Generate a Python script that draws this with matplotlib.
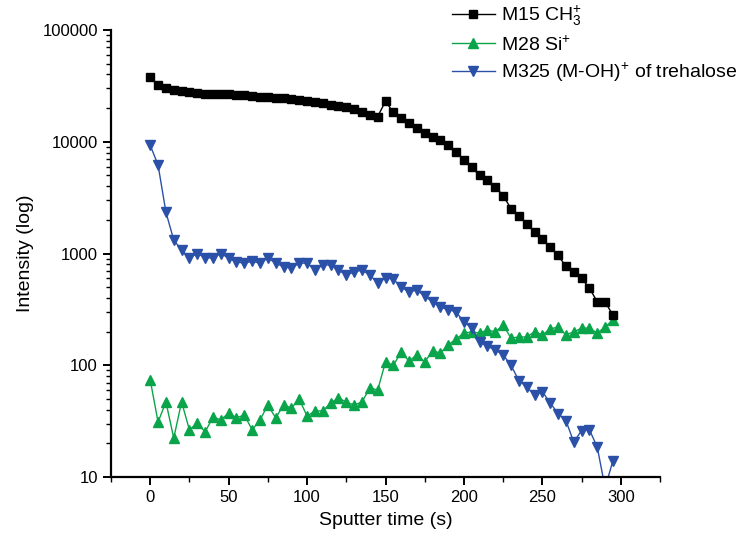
import matplotlib
matplotlib.use("Agg")
import matplotlib.pyplot as plt
from matplotlib.ticker import MultipleLocator, LogLocator, NullFormatter

plt.rcParams['font.family'] = ['Liberation Sans', 'DejaVu Sans']
plt.rcParams['mathtext.fontset'] = 'custom'
plt.rcParams['mathtext.rm'] = 'Liberation Sans'
plt.rcParams['mathtext.it'] = 'Liberation Sans:italic'

# sputter time (s)
time = [0, 5, 10, 15, 20, 25, 30, 35, 40, 45, 50, 55, 60, 65, 70, 75, 80, 85, 90, 95,
        100, 105, 110, 115, 120, 125, 130, 135, 140, 145, 150, 155, 160, 165, 170, 175,
        180, 185, 190, 195, 200, 205, 210, 215, 220, 225, 230, 235, 240, 245, 250, 255,
        260, 265, 270, 275, 280, 285, 290, 295]

# M15 CH3+
ch3 = [38000, 32000, 30000, 29000, 28300, 27800, 27400, 27000, 26800, 26600,
       26500, 26300, 26000, 25700, 25400, 25100, 24800, 24400, 24000, 23500,
       23000, 22500, 22000, 21500, 21000, 20300, 19500, 18500, 17500, 16800,
       23000, 18300, 16300, 14700, 13300, 12000, 11000, 10400, 9400, 8100,
       6900, 5900, 5000, 4550, 3950, 3300, 2520, 2180, 1840, 1560,
       1340, 1140, 960, 770, 690, 600, 490, 370, 370, 280]

# M28 Si+
si = [74, 31, 47, 22.3, 47, 26.4, 30.4, 25.3, 34.4, 32.4,
      37.4, 33.8, 35.9, 26.4, 32.4, 44, 33.8, 44, 41.4, 49.9,
      35, 39, 39, 45.9, 50.9, 46.9, 44, 46.9, 62.6, 60,
      107, 100, 131, 109, 124, 107, 134, 129, 152, 172,
      194, 199, 194, 207, 199, 229, 175, 179, 179, 199,
      187, 211, 220, 187, 199, 215, 215, 194, 220, 254]

# M325 (M-OH)+ of trehalose
treh = [9300, 6200, 2350, 1320, 1075, 910, 1000, 920, 910, 1000,
        910, 840, 820, 850, 820, 910, 820, 760, 740, 820,
        820, 711, 790, 790, 711, 642, 683, 711, 642, 545,
        604, 590, 501, 452, 471, 415, 370, 330, 315, 300,
        244, 215, 161, 148, 137, 124, 100, 73, 64, 54,
        58, 46, 37, 32, 20.6, 26, 26.5, 18.5, 8, 14]

labels = [r'M15 CH$_3^{+}$', r'M28 Si$^{+}$', r'M325 (M-OH)$^{+}$ of trehalose']

fig = plt.figure(figsize=(7.47, 5.40), dpi=100)
ax = fig.add_axes([111 / 747, 1 - 477 / 540, (660 - 111) / 747, (477 - 30) / 540])

ax.plot(time, ch3, '-s', color='black', lw=1.0, ms=6.2, label=labels[0], zorder=3)
ax.plot(time, si, '-^', color='#0aa54a', lw=1.0, ms=7.5, label=labels[1], zorder=2)
ax.plot(time, treh, '-v', color='#2a50a8', lw=1.0, ms=7.5, label=labels[2], zorder=2.5)

ax.set_yscale('log')
ax.set_ylim(10, 100000)
ax.set_xlim(-25, 325)

ax.xaxis.set_major_locator(MultipleLocator(50))
ax.xaxis.set_minor_locator(MultipleLocator(25))
ax.yaxis.set_minor_locator(LogLocator(base=10, subs=range(2, 10)))
ax.yaxis.set_minor_formatter(NullFormatter())
ax.set_yticks([10, 100, 1000, 10000, 100000])
ax.set_yticklabels(['10', '100', '1000', '10000', '100000'])

for s in ['top', 'right']:
    ax.spines[s].set_visible(False)
for s in ['left', 'bottom']:
    ax.spines[s].set_linewidth(1.6)

ax.tick_params(which='major', direction='out', length=6, width=1.4, labelsize=12)
ax.tick_params(which='minor', direction='out', length=3.5, width=1.0)

ax.set_xlabel('Sputter time (s)', fontsize=14, labelpad=5)
ax.set_ylabel('Intensity (log)', fontsize=14, labelpad=6)

ax.legend(loc='upper left', bbox_to_anchor=(448 / 747, 1.0), bbox_transform=fig.transFigure,
          frameon=False, fontsize=14, handlelength=2.2, handletextpad=0.3,
          labelspacing=0.35, borderaxespad=0.0, borderpad=0.2)

fig.savefig('out.png', dpi=100)
